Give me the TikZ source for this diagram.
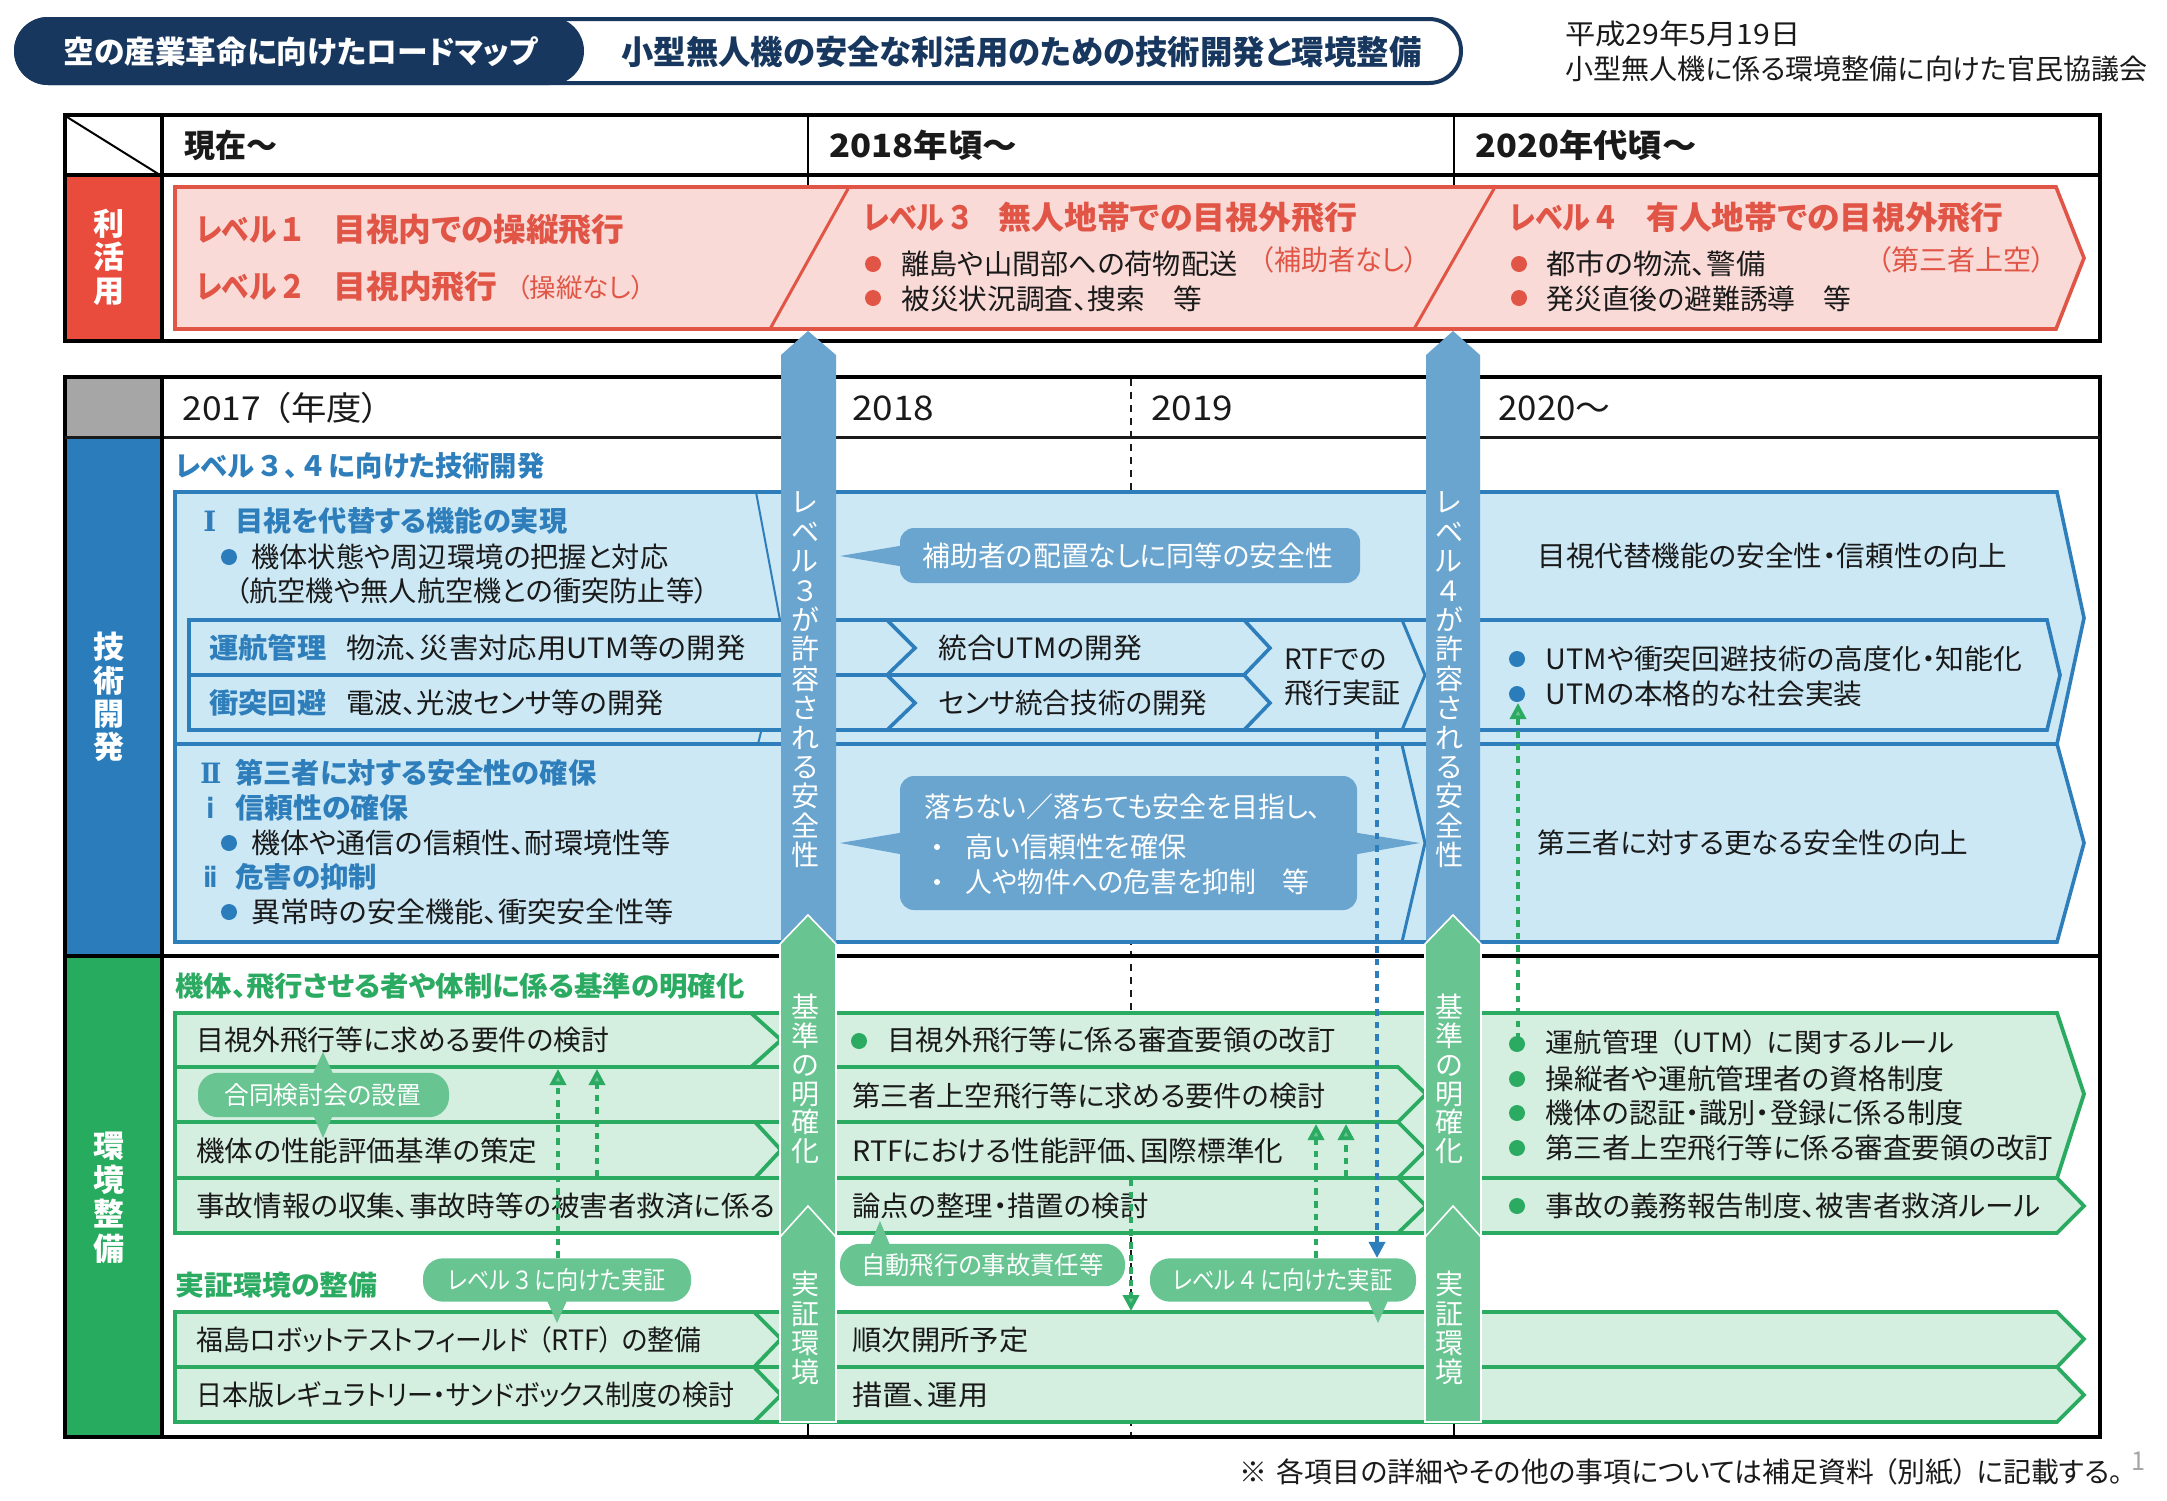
\documentclass[tikz,border=0pt]{standalone}
\usepackage{graphicx}
\usepackage{fontspec}
\setmainfont{Noto Sans CJK JP}[RawFeature={+palt}]
\newfontfamily\romsf{DejaVu Sans}
\newfontfamily\romse{DejaVu Serif}
\usetikzlibrary{arrows.meta}
\definecolor{navy}{HTML}{17375E}
\definecolor{redS}{HTML}{E15546}
\definecolor{redF}{HTML}{F9DAD7}
\definecolor{redC}{HTML}{E94B3C}
\definecolor{blueC}{HTML}{2A7DBA}
\definecolor{blueS}{HTML}{2E7EBB}
\definecolor{blueF}{HTML}{CCE8F5}
\definecolor{arrB}{HTML}{6AA5CF}
\definecolor{grnC}{HTML}{27AB5E}
\definecolor{grnS}{HTML}{2BAB62}
\definecolor{grnF}{HTML}{D4EEDF}
\definecolor{arrG}{HTML}{68C491}
\definecolor{grayC}{HTML}{A6A6A6}
\definecolor{ink}{HTML}{1A1A1A}
\definecolor{pgn}{HTML}{A6A6A6}
\newcounter{tn}
\newsavebox\txbox
\newcommand\kg{\hspace{0.35em}}
\newcommand\kn{\hspace{0.18em}}
\newcommand\txgen[7]{%
 \stepcounter{tn}%
 \node[name=t\arabic{tn},anchor=base west,inner sep=0pt,text=#6] at (#2,{#3+0.37*#5}) {%
 \pgfmathsetmacro\txsz{#5*0.5}%
 \sbox\txbox{\fontsize{\txsz}{\txsz}\selectfont #1#7}%
 \pgfmathsetmacro\txfr{#4*0.5/\the\wd\txbox}%
 \scalebox{\txfr}[1]{\usebox\txbox}};}
\newcommand\txn[6]{\txgen{}{#1}{#2}{#3}{#4}{#5}{#6}}
\newcommand\txb[6]{\txgen{\bfseries}{#1}{#2}{#3}{#4}{#5}{#6}}
% vertical stack: x, ycentre, size(pt), pitch(pt), extra font, text
\newcommand\vst[6]{\stepcounter{tn}\node[name=t\arabic{tn},anchor=center,inner sep=0pt,align=center,text=white,font={\fontsize{#3}{#4}\selectfont #5}] at (#1,#2) {#6};}
\tikzset{
 box/.style={line width=2pt,draw=black},
 thinline/.style={line width=1pt,draw=black},
 redband/.style={draw=redS,fill=redF,line width=1.8pt,line join=miter},
 redline/.style={draw=redS,line width=1.5pt},
 blueband/.style={draw=blueS,fill=blueF,line width=1.8pt,line join=miter},
 blueline/.style={draw=blueS,line width=1.8pt,line join=miter},
 bluethin/.style={draw=blueS,line width=1pt},
 grnband/.style={draw=grnS,fill=grnF,line width=1.9pt,line join=miter},
 grnline/.style={draw=grnS,line width=1.9pt,line join=miter},
 arrowB/.style={fill=arrB},
 arrowG/.style={fill=arrG,draw=white,line width=0.8pt},
 pillG/.style={fill=arrG,rounded corners=10pt,inner sep=0pt},
 callB/.style={fill=arrB,rounded corners=7pt,inner sep=0pt},
 gdash/.style={draw=grnS,line width=1.8pt,dash pattern=on 3.3pt off 3pt,-{Triangle[length=8pt,width=8pt,fill=arrG]}},
 bdash/.style={draw=blueS,line width=1.8pt,dash pattern=on 3.3pt off 3pt,-{Triangle[length=8pt,width=8pt]}},
}
\begin{document}
\begin{tikzpicture}[x=0.5pt,y=-0.5pt]
\useasboundingbox (0,0) rectangle (2167,1500);
\fill[white] (0,0) rectangle (2167,1500);
% ---------- header
\draw[navy,line width=2pt,fill=white,rounded corners=16pt] (16,19) rectangle (1461,83);
\fill[navy,rounded corners=17pt] (14,17) rectangle (584,85);
\txb{63}{52}{474}{31}{white}{空の産業革命に向けたロードマップ}
\txb{621}{52}{800}{33}{navy}{小型無人機の安全な利活用のための技術開発と環境整備}
\txn{1565}{34}{235}{28}{ink}{平成29年5月19日}
\txn{1565}{69}{582}{28}{ink}{小型無人機に係る環境整備に向けた官民協議会}
% ---------- upper table
\fill[redC] (65,176) rectangle (161,340);
\draw[thinline] (808,115) -- (808,190);
\draw[thinline] (1453.5,115) -- (1453.5,190);
\draw[thinline] (67,117) -- (160,175);
\draw[box] (64.5,115) rectangle (2100,341);
\draw[box] (64.5,175) -- (2100,175);
\draw[line width=1.6pt] (162,115) -- (162,341);
\vst{109}{257}{15.5}{16.8}{\bfseries}{利\\活\\用}
\txb{184}{146}{93}{32}{ink}{現在～}
\txb{829}{146}{188}{32}{ink}{2018年頃～}
\txb{1475}{146}{221}{32}{ink}{2020年代頃～}
\path[redband] (175,187) -- (2056,187) -- (2084,258) -- (2056,329) -- (175,329) -- cycle;
\draw[redline] (849,187) -- (770,329);
\draw[redline] (1495,187) -- (1414,329);
\txb{196}{230}{106}{32}{redS}{レベル\kn １}
\txb{333}{230}{291}{32}{redS}{目視内での操縦飛行}
\txb{196}{287}{106}{32}{redS}{レベル\kn ２}
\txb{333}{287}{164}{32}{redS}{目視内飛行}
\txn{516}{288}{128}{26}{redS}{（操縦なし）}
\txb{863}{218}{107}{32}{redS}{レベル\kn ３}
\txb{998}{218}{359}{32}{redS}{無人地帯での目視外飛行}
\fill[redS] (873,264) circle[radius=8];
\fill[redS] (873,298) circle[radius=8];
\txn{901}{264}{336}{28}{ink}{離島や山間部への荷物配送}
\txn{1260}{260}{158}{28}{redS}{（補助者なし）}
\txn{901}{299}{301}{28}{ink}{被災状況調査、捜索　等}
\txb{1509}{218}{107}{32}{redS}{レベル\kn ４}
\txb{1646}{218}{357}{32}{redS}{有人地帯での目視外飛行}
\fill[redS] (1519,264) circle[radius=8];
\fill[redS] (1519,298) circle[radius=8];
\txn{1546}{264}{219}{28}{ink}{都市の物流、警備}
\txn{1877}{260}{168}{28}{redS}{（第三者上空）}
\txn{1546}{299}{305}{28}{ink}{発災直後の避難誘導　等}
% ---------- lower table
\fill[grayC] (65,378) rectangle (161,436);
\fill[blueC] (65,437) rectangle (161,956);
\fill[grnC] (65,957) rectangle (161,1436);
\draw[thinline] (808,1415) -- (808,1436);
\draw[thinline] (1453.5,1415) -- (1453.5,1436);
\draw[ink,line width=0.6pt,dash pattern=on 3.5pt off 3pt] (1131,379) -- (1131,1436);
\draw[box] (64.5,377) rectangle (2100,1437);
\draw[line width=1.5pt,draw=ink] (64.5,437) -- (2100,437);
\draw[line width=1.6pt] (64.5,956) -- (2100,956);
\draw[line width=1.6pt] (162,377) -- (162,1437);
\vst{109}{697}{15.5}{16.6}{\bfseries}{技\\術\\開\\発}
\vst{109}{1197.5}{15.5}{17.2}{\bfseries}{環\\境\\整\\備}
\txn{182}{408}{197}{33}{ink}{2017\kg （年度）}
\txn{852}{408}{82}{34}{ink}{2018}
\txn{1151}{408}{82}{34}{ink}{2019}
\txn{1498}{408}{112}{34}{ink}{2020～}
\txb{175}{466}{369}{28}{blueS}{レベル\kn ３\kn 、\kn ４\kn に向けた技術開発}
% blue bands
\path[blueband] (175,492) -- (2057,492) -- (2084,618) -- (2057,744) -- (175,744) -- cycle;
\path[blueband] (175,744) -- (2057,744) -- (2084,843) -- (2057,942) -- (175,942) -- cycle;
\draw[bluethin] (756,492) -- (780,620);
\draw[bluethin] (761,732) -- (758,744);
\draw[blueline,line width=1.5pt] (1402,745) -- (1425,843) -- (1402,942);
\path[blueline,fill=blueF] (189,620) -- (2047,620) -- (2060,675) -- (2047,730) -- (189,730) -- cycle;
\draw[blueline] (189,675) -- (1244,675);
\draw[blueline] (887,620) -- (915,648) -- (887,675) -- (915,703) -- (887,730);
\draw[blueline] (1244,620) -- (1270,648) -- (1244,675) -- (1270,703) -- (1244,730);
\draw[blueline,line width=1.5pt] (1402,620) -- (1425,675) -- (1402,730);
% blue band texts
\txb{203}{521}{13}{28}{blueS}{\romse Ⅰ}
\txb{235}{521}{332}{28}{blueS}{目視を代替する機能の実現}
\fill[blueC] (229,557) circle[radius=8];
\txn{251}{557}{417}{28}{ink}{機体状態や周辺環境の把握と対応}
\txn{235}{591}{473}{28}{ink}{（航空機や無人航空機との衝突防止等）}
\txb{209}{648}{117}{28}{blueS}{運航管理}
\txn{346}{648}{399}{28}{ink}{物流、災害対応用UTM等の開発}
\txb{209}{703}{117}{28}{blueS}{衝突回避}
\txn{346}{703}{317}{28}{ink}{電波、光波センサ等の開発}
\txn{938}{648}{204}{28}{ink}{統合UTMの開発}
\txn{938}{703}{269}{28}{ink}{センサ統合技術の開発}
\txn{1284}{659}{102}{28}{ink}{RTFでの}
\txn{1284}{693}{116}{28}{ink}{飛行実証}
\txb{200}{773}{21}{28}{blueS}{\romse Ⅱ}
\txb{235}{773}{361}{28}{blueS}{第三者に対する安全性の確保}
\txb{206}{808}{8}{28}{blueS}{\romsf ⅰ}
\txb{235}{808}{173}{28}{blueS}{信頼性の確保}
\fill[blueC] (229,843) circle[radius=8];
\txn{251}{843}{419}{28}{ink}{機体や通信の信頼性、耐環境性等}
\txb{203}{877}{14}{28}{blueS}{\romsf ⅱ}
\txb{235}{877}{142}{28}{blueS}{危害の抑制}
\fill[blueC] (229,912) circle[radius=8];
\txn{251}{912}{422}{28}{ink}{異常時の安全機能、衝突安全性等}
\txn{1537}{556}{470}{28}{ink}{目視代替機能の安全性・信頼性の向上}
\fill[blueC] (1517,659) circle[radius=8];
\fill[blueC] (1517,694) circle[radius=8];
\txn{1545}{659}{477}{28}{ink}{UTMや衝突回避技術の高度化・知能化}
\txn{1545}{694}{317}{28}{ink}{UTMの本格的な社会実装}
\txn{1537}{843}{431}{28}{ink}{第三者に対する更なる安全性の向上}
% callouts
\fill[arrB] (905,545) -- (840,556) -- (905,567) -- cycle;
\node[callB,minimum width=230pt,minimum height=27.5pt] (callA) at (1130,555.5) {};
\txn{922}{556}{411}{28}{white}{補助者の配置なしに同等の安全性}
\fill[arrB] (905,832) -- (840,843) -- (905,855) -- cycle;
\fill[arrB] (1352,832) -- (1420,843) -- (1352,855) -- cycle;
\node[callB,minimum width=228.5pt,minimum height=67pt] (callB2) at (1128.5,843) {};
\txn{924}{807}{397}{28}{white}{落ちない／落ちても安全を目指し、}
\fill[white] (937,847) circle[radius=3];
\txn{965}{847}{221}{28}{white}{高い信頼性を確保}
\fill[white] (937,882) circle[radius=3];
\txn{965}{882}{344}{28}{white}{人や物件への危害を抑制　等}
% green bands
\txb{175}{986}{569}{27.5}{grnS}{機体、飛行させる者や体制に係る基準の明確化}
\path[grnband] (175,1013) -- (2057,1013) -- (2084,1094) -- (2057,1178) -- (2084,1206) -- (2057,1233) -- (175,1233) -- cycle;
\draw[grnline] (175,1067) -- (781,1067);
\draw[grnline] (175,1122) -- (781,1122);
\draw[grnline] (175,1178) -- (781,1178);
\draw[grnline] (751,1013) -- (781,1040) -- (751,1067);
\draw[grnline] (755,1122) -- (781,1150) -- (755,1178);
\draw[grnline] (836,1067) -- (1398,1067) -- (1426,1094) -- (1398,1122) -- (1426,1150) -- (1398,1178) -- (1426,1206) -- (1398,1233);
\draw[grnline] (836,1122) -- (1398,1122);
\draw[grnline] (836,1178) -- (2057,1178);
\path[grnband] (175,1312) -- (2057,1312) -- (2084,1339) -- (2057,1367) -- (2084,1395) -- (2057,1422) -- (175,1422) -- cycle;
\draw[grnline] (175,1367) -- (2057,1367);
\draw[grnline] (754,1312) -- (781,1339) -- (754,1367) -- (781,1395) -- (754,1422);
% green texts
\txn{196}{1040}{413}{28}{ink}{目視外飛行等に求める要件の検討}
\txn{196}{1151}{341}{28}{ink}{機体の性能評価基準の策定}
\txn{196}{1206}{579}{28}{ink}{事故情報の収集、事故時等の被害者救済に係る}
\txb{175}{1285}{202}{27.5}{grnS}{実証環境の整備}
\txn{196}{1340}{505}{28}{ink}{福島ロボットテストフィールド\kg （RTF）\kg の整備}
\txn{196}{1395}{538}{28}{ink}{日本版レギュラトリー・サンドボックス制度の検討}
\fill[grnS] (859,1041) circle[radius=8];
\txn{887}{1040}{448}{28}{ink}{目視外飛行等に係る審査要領の改訂}
\txn{852}{1096}{473}{28}{ink}{第三者上空飛行等に求める要件の検討}
\txn{852}{1151}{431}{28}{ink}{RTFにおける性能評価、国際標準化}
\txn{852}{1206}{296}{28}{ink}{論点の整理・措置の検討}
\txn{852}{1340}{176}{28}{ink}{順次開所予定}
\txn{852}{1395}{136}{28}{ink}{措置、運用}
\fill[grnS] (1517,1044) circle[radius=8];
\fill[grnS] (1517,1079) circle[radius=8];
\fill[grnS] (1517,1113) circle[radius=8];
\fill[grnS] (1517,1148) circle[radius=8];
\fill[grnS] (1517,1206) circle[radius=8];
\txn{1545}{1043}{409}{26.5}{ink}{運航管理\kg （UTM）\kg に関するルール}
\txn{1545}{1079}{399}{28}{ink}{操縦者や運航管理者の資格制度}
\txn{1545}{1113}{418}{28}{ink}{機体の認証・識別・登録に係る制度}
\txn{1545}{1148}{508}{28}{ink}{第三者上空飛行等に係る審査要領の改訂}
\txn{1545}{1206}{495}{28}{ink}{事故の義務報告制度、被害者救済ルール}
% vertical arrows
\path[arrowB] (808,331) -- (836,355) -- (836,950) -- (781,950) -- (781,355) -- cycle;
\path[arrowB] (1453,331) -- (1480,355) -- (1480,950) -- (1426,950) -- (1426,355) -- cycle;
\path[arrowG] (808,915) -- (836,944) -- (836,1422) -- (780,1422) -- (780,944) -- cycle;
\path[arrowG] (1453,915) -- (1481,944) -- (1481,1422) -- (1425,1422) -- (1425,944) -- cycle;
\path[arrowG] (808,1206) -- (836,1237) -- (836,1422) -- (780,1422) -- (780,1237) -- cycle;
\path[arrowG] (1453,1206) -- (1481,1237) -- (1481,1422) -- (1425,1422) -- (1425,1237) -- cycle;
\vst{805}{680}{14}{14.7}{}{レ\\ベ\\ル\\３\\が\\許\\容\\さ\\れ\\る\\安\\全\\性}
\vst{1449}{680}{14}{14.7}{}{レ\\ベ\\ル\\４\\が\\許\\容\\さ\\れ\\る\\安\\全\\性}
\vst{805}{1079}{14}{14.4}{}{基\\準\\の\\明\\確\\化}
\vst{1449}{1079}{14}{14.4}{}{基\\準\\の\\明\\確\\化}
\vst{805}{1328}{14}{14.6}{}{実\\証\\環\\境}
\vst{1449}{1328}{14}{14.6}{}{実\\証\\環\\境}
% pills
\fill[arrG] (311,1078) -- (323,1052) -- (335,1078) -- cycle;
\fill[arrG] (311,1110) -- (323,1138) -- (335,1110) -- cycle;
\node[pillG,minimum width=125.5pt,minimum height=22.2pt] (pillJoint) at (323.5,1095) {};
\txn{224}{1095}{197}{25}{white}{合同検討会の設置}
\fill[arrG] (545,1296) -- (557,1323) -- (569,1296) -- cycle;
\node[pillG,minimum width=134pt,minimum height=21.7pt] (pillL3) at (557,1280) {};
\txn{447}{1280}{218}{25}{white}{レベル\kn ３\kn に向けた実証}
\fill[arrG] (868,1250) -- (880,1221) -- (892,1250) -- cycle;
\node[pillG,minimum width=142.5pt,minimum height=21.2pt] (pillLiab) at (982.5,1265) {};
\txn{861}{1265}{242}{25}{white}{自動飛行の事故責任等}
\fill[arrG] (1366,1296) -- (1378,1323) -- (1390,1296) -- cycle;
\node[pillG,minimum width=133pt,minimum height=21.7pt] (pillL4) at (1283,1280) {};
\txn{1172}{1280}{220}{25}{white}{レベル\kn ４\kn に向けた実証}
% dashed connectors
\coordinate (upA) at (558,1069);
\coordinate (upB) at (597,1069);
\coordinate (srcB) at (597,1177);
\coordinate (upC) at (1316,1124);
\coordinate (upD) at (1346,1124);
\coordinate (srcD) at (1346,1177);
\coordinate (srcE) at (1131,1179);
\coordinate (downE) at (1131,1311);
\coordinate (srcF) at (1377,732);
\coordinate (srcG) at (1518,1040);
\coordinate (upG) at (1518,703);
\draw[gdash] (pillL3.north -| upA) -- (upA);
\draw[gdash] (srcB) -- (upB);
\draw[gdash] (pillL4.north -| upC) -- (upC);
\draw[gdash] (srcD) -- (upD);
\draw[gdash] (srcE) -- (downE);
\draw[bdash] (srcF) -- (pillL4.north -| srcF);
\draw[gdash] (srcG) -- (upG);
% footer
\txn{1239}{1472}{884}{28}{ink}{※\kg 各項目の詳細やその他の事項については補足資料\kg （別紙）\kg に記載する。}
\txn{2131}{1461}{14}{26}{pgn}{1}
\end{tikzpicture}
\end{document}
